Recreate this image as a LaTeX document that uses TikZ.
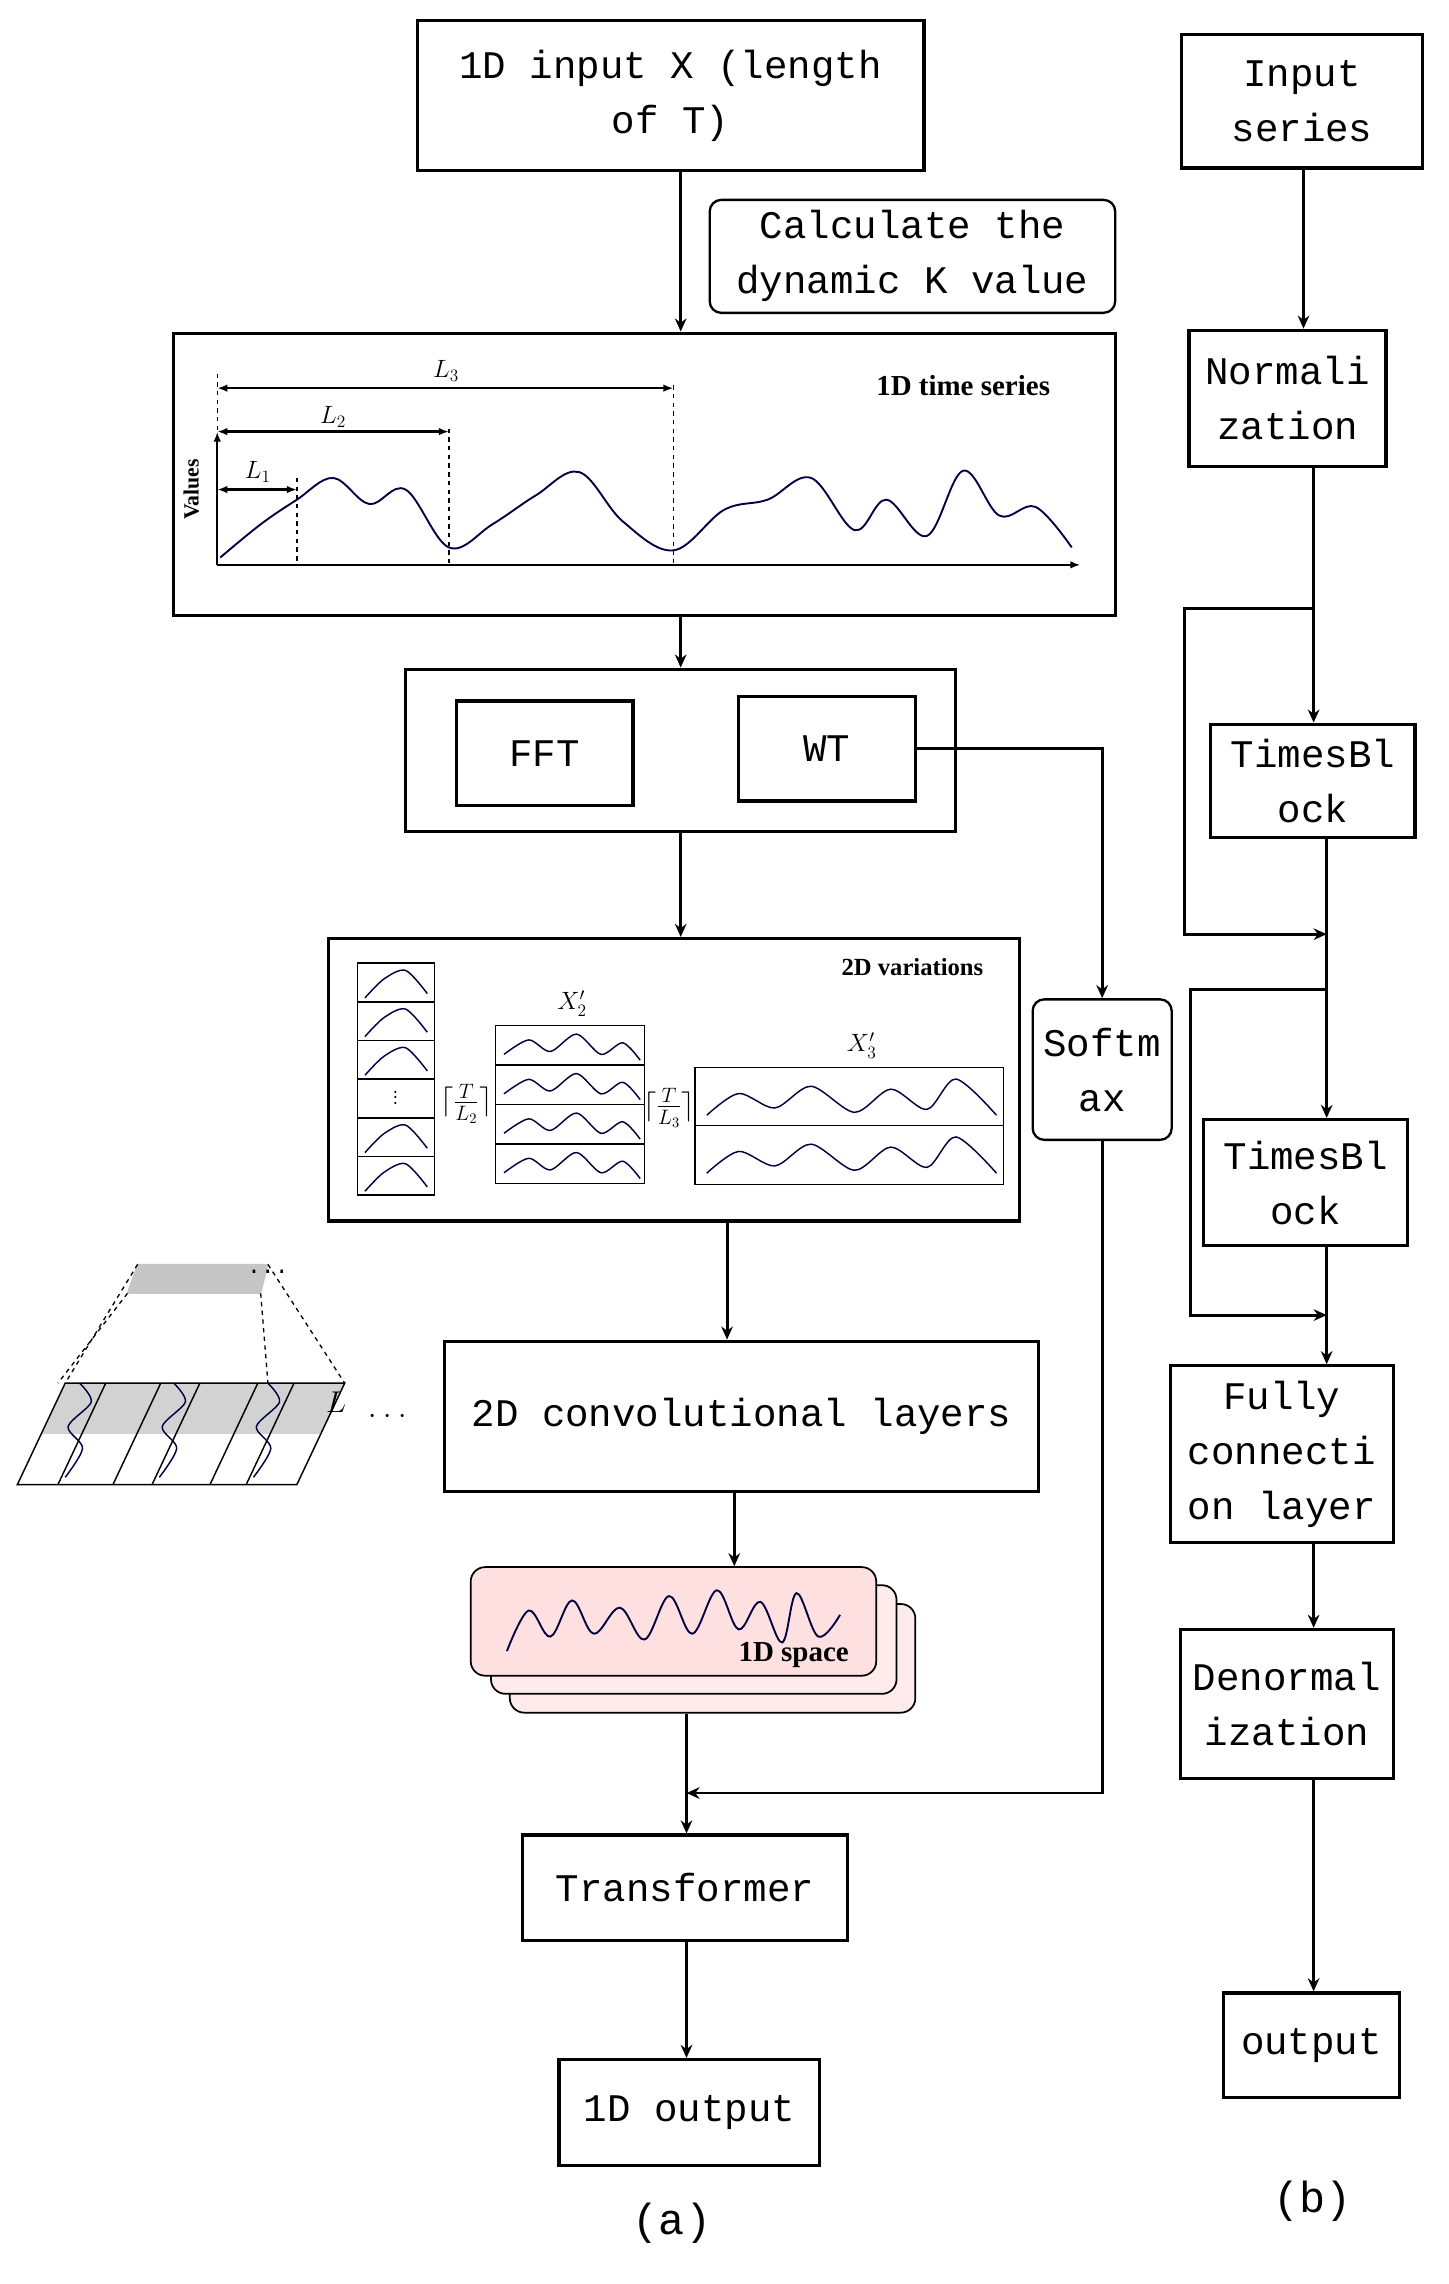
\documentclass[tikz,border=0pt]{standalone}
\usepackage{fontspec}
\setmainfont{Liberation Mono}
\newfontfamily\serifb{Liberation Serif}
\usetikzlibrary{arrows.meta,calc}
\begin{document}
\begin{tikzpicture}[x=1pt,y=-1pt,
 box/.style={draw,line width=2.2pt,inner sep=0pt,align=center,font=\fontsize{27}{38}\selectfont},
 rbox/.style={box,rounded corners=8pt,line width=1.6pt},
 panel/.style={draw,line width=2.2pt,inner sep=0pt},
 arr/.style={line width=2pt,-{Stealth[length=9pt,width=8pt]}},
 ln/.style={line width=2pt},
 wave/.style={draw=black!75!blue,line width=1.3pt}]
\useasboundingbox (0,0) rectangle (1000,1577);
% left column
\node[box,minimum width=350,minimum height=104] (inp) at (463,66) {1D input X (length\\of T)};
\node[rbox,minimum width=280,minimum height=78] (calc) at (630,177) {Calculate the\\dynamic K value};
\node[panel,minimum width=650,minimum height=195] (ts) at (445,327.5) {};
\node[panel,minimum width=380,minimum height=112] (fw) at (470,518) {};
\node[box,minimum width=122,minimum height=72] (fft) at (376,520) {FFT};
\node[box,minimum width=122,minimum height=72] (wt) at (571,517) {WT};
\node[panel,minimum width=477,minimum height=195] (v2) at (465.5,745.5) {};
\node[rbox,minimum width=96,minimum height=97] (soft) at (761,738.5) {Softm\\ax};
\node[box,minimum width=410,minimum height=104] (conv) at (512,978) {2D convolutional layers};
\node[draw,line width=1.2pt,rounded corners=10pt,fill=red!8,minimum width=280,minimum height=75] (s3) at (492,1145) {};
\node[draw,line width=1.2pt,rounded corners=10pt,fill=red!8,minimum width=280,minimum height=75] (s2) at (479,1132) {};
\node[draw,line width=1.2pt,rounded corners=10pt,fill=red!12,minimum width=280,minimum height=75] (sp) at (465,1119.5) {};
\node[box,minimum width=224,minimum height=73] (tr) at (473,1303.5) {Transformer};
\node[box,minimum width=180,minimum height=73] (out) at (476,1458.5) {1D output};
\node[font=\fontsize{30}{34}\selectfont] (la) at (464,1535) {(a)};
% right column
\node[box,minimum width=166,minimum height=92] (is) at (899,70) {Input\\series};
\node[box,minimum width=136,minimum height=94] (nm) at (889,275) {Normali\\zation};
\node[box,minimum width=141,minimum height=78] (tb1) at (906.5,539) {TimesBl\\ock};
\node[box,minimum width=141,minimum height=87] (tb2) at (901.5,816.5) {TimesBl\\ock};
\node[box,minimum width=154,minimum height=122] (fc) at (885,1004) {Fully\\connecti\\on layer};
\node[box,minimum width=147,minimum height=103] (dn) at (888.5,1176.5) {Denormal\\ization};
\node[box,minimum width=121,minimum height=72] (op) at (905.5,1412) {output};
\node[font=\fontsize{30}{34}\selectfont] (lb) at (906,1520) {(b)};
% guide x positions
\coordinate (x470) at (470,0);
\coordinate (x502) at (502,0);
\coordinate (x507) at (507,0);
\coordinate (x474) at (474,0);
\coordinate (x900) at (900,0);
\coordinate (x907) at (907,0);
\coordinate (x916) at (916,0);
% connectors left
\draw[arr] (inp.south -| x470) -- (ts.north -| x470);
\draw[arr] (ts.south -| x470) -- (fw.north -| x470);
\draw[arr] (fw.south -| x470) -- (v2.north -| x470);
\draw[arr] (wt.east) -| (soft.north);
\coordinate (j) at (474,1238);
\draw[arr] (soft.south) |- (j);
\draw[arr] (conv.south -| x507) -- (sp.north -| x507);
\draw[arr] (v2.south -| x502) -- (conv.north -| x502);
\draw[ln] (s3.south -| x474) -- (j);
\draw[arr] (j) -- (tr.north -| x474);
\draw[arr] (tr.south -| x474) -- (out.north -| x474);
% connectors right
\draw[arr] (is.south -| x900) -- (nm.north -| x900);
\draw[arr] (nm.south -| x907) -- (tb1.north -| x907);
\coordinate (r1) at (907,420); \coordinate (m1) at (916,645);
\draw[arr] (r1) -| (818,645) -- (m1);
\draw[arr] (tb1.south -| x916) -- (tb2.north -| x916);
\coordinate (r2) at (916,683); \coordinate (m2) at (916,908);
\draw[arr] (r2) -| (822,908) -- (m2);
\draw[arr] (tb2.south -| x916) -- (fc.north -| x916);
\draw[arr] (fc.south -| x907) -- (dn.north -| x907);
\draw[arr] (dn.south -| x907) -- (op.north -| x907);
% time series plot
\draw[line width=1.6pt,-{Latex[length=7pt]}] (150,390) -- (746,390);
\draw[line width=1.6pt,-{Latex[length=7pt]}] (150,390) -- (150,298);
\node[rotate=90,font=\serifb\bfseries\fontsize{15}{16}\selectfont] at (132,338) {Values};
\draw[wave] plot[smooth,tension=0.6] coordinates {(152,385)(180,362)(205,345)(230,330)(255,348)(280,338)(310,378)(340,362)(370,342)(400,326)(430,360)(465,380)(500,352)(530,345)(560,330)(590,366)(612,345)(640,370)(665,325)(690,356)(715,350)(740,378)};
\foreach \x/\t in {150/258,205/330,310/296,465/266}{\draw[dashed,line width=0.9pt] (\x,\t) -- (\x,390);}
\draw[line width=1.6pt,{Latex[length=7pt]}-{Latex[length=7pt]}] (150,268) -- (465,268);
\draw[line width=1.6pt,{Latex[length=7pt]}-{Latex[length=7pt]}] (150,298) -- (310,298);
\draw[line width=1.6pt,{Latex[length=7pt]}-{Latex[length=7pt]}] (150,338) -- (205,338);
\node[font=\serifb\itshape\fontsize{18}{18}\selectfont] at (308,256) {$L_3$};
\node[font=\serifb\itshape\fontsize{18}{18}\selectfont] at (230,288) {$L_2$};
\node[font=\serifb\itshape\fontsize{18}{18}\selectfont] at (178,326) {$L_1$};
\node[font=\serifb\bfseries\fontsize{20}{20}\selectfont] at (665,266) {1D time series};
% 2D variations
\node[font=\serifb\bfseries\fontsize{17}{17}\selectfont] at (630,668) {2D variations};
\draw[line width=1pt] (247,665) rectangle (300,825);
\foreach \i in {1,...,5}{\draw[line width=1pt] (247,665+26.7*\i) -- (300,665+26.7*\i);}
\foreach \i in {0,1,2,4,5}{\draw[wave,line width=1pt] plot[smooth] coordinates {(252,689+26.7*\i)(265,676+26.7*\i)(280,670+26.7*\i)(295,686+26.7*\i)};}
\node[font=\fontsize{10}{10}\selectfont,inner sep=0pt] at (273,755) {$\vdots$};
\draw[line width=1pt] (342,708) rectangle (445,817);
\foreach \i in {1,2,3}{\draw[line width=1pt] (342,708+27.25*\i) -- (445,708+27.25*\i);}
\foreach \i in {0,1,2,3}{\draw[wave,line width=1pt] plot[smooth] coordinates {(348,728+27.25*\i)(365,718+27.25*\i)(380,726+27.25*\i)(398,714+27.25*\i)(415,728+27.25*\i)(430,720+27.25*\i)(442,732+27.25*\i)};}
\draw[line width=1pt] (480,737) rectangle (693,818);
\draw[line width=1pt] (480,777) -- (693,777);
\foreach \i in {0,1}{\draw[wave,line width=1pt] plot[smooth] coordinates {(488,770+40*\i)(510,755+40*\i)(535,765+40*\i)(560,750+40*\i)(590,768+40*\i)(615,752+40*\i)(640,766+40*\i)(660,745+40*\i)(688,770+40*\i)};}
\node[font=\serifb\bfseries\fontsize{17}{17}\selectfont] at (395,693) {$X'_2$};
\node[font=\serifb\bfseries\fontsize{17}{17}\selectfont] at (595,722) {$X'_3$};
\node[font=\fontsize{20}{20}\selectfont,inner sep=0pt] at (322,762) {$\lceil\frac{T}{L_2}\rceil$};
\node[font=\fontsize{20}{20}\selectfont,inner sep=0pt] at (462,765) {$\lceil\frac{T}{L_3}\rceil$};
% 1D space
\draw[wave] plot[smooth,tension=0.6] coordinates {(350,1140)(365,1112)(380,1130)(395,1105)(410,1128)(428,1110)(445,1132)(462,1102)(478,1128)(495,1098)(510,1125)(525,1106)(540,1134)(550,1100)(565,1130)(580,1115)};
\node[font=\serifb\bfseries\fontsize{20}{20}\selectfont] at (548,1143) {1D space};
% left illustration
\fill[gray!35] (29,990) -- (45,955) -- (238,955) -- (222,990) -- cycle;
\draw[line width=1pt] (12,1025) -- (45,955) -- (238,955) -- (205,1025) -- cycle;
\foreach \x in {78,145}{\draw[line width=1pt] (\x,1025) -- (\x+33,955);}
\draw[line width=1pt] (40,1025) -- (73,955);
\draw[line width=1pt] (105,1025) -- (138,955);
\draw[line width=1pt] (170,1025) -- (203,955);
\fill[gray!45,draw,line width=0.8pt] (95,873) -- (185,873) -- (180,893) -- (88,893) -- cycle;
\draw[dashed,line width=0.9pt] (88,893) -- (40,955) (180,893) -- (185,955) (95,873) -- (45,955) (185,873) -- (238,955);
\foreach \x in {45,110,175}{\draw[wave,line width=1pt] plot[smooth] coordinates {(\x,1020)(\x+12,1000)(\x+2,985)(\x+18,968)(\x+10,955)};}
\node[font=\fontsize{16}{16}\selectfont] at (185,878) {...};
\node[font=\serifb\itshape\fontsize{20}{20}\selectfont] at (232,968) {$L$};
\node[font=\fontsize{22}{22}\selectfont] at (268,978) {$\cdot\cdot\cdot$};
\end{tikzpicture}
\end{document}
